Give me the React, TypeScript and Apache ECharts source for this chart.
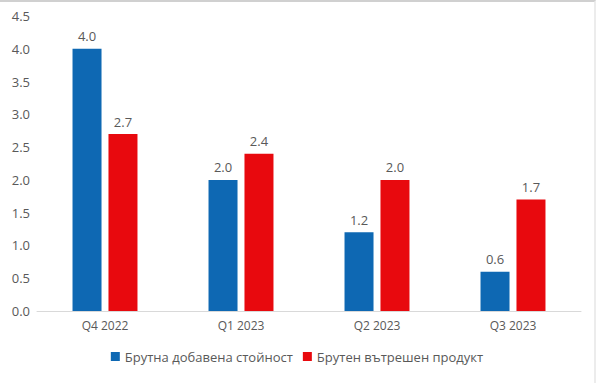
import React, { useEffect, useRef } from "react";
import * as echarts from "echarts";

const categories = ["Q4 2022", "Q1 2023", "Q2 2023", "Q3 2023"];
const gvaValues = [4.0, 2.0, 1.2, 0.6];
const gdpValues = [2.7, 2.4, 2.0, 1.7];
const seriesNames = ["Брутна добавена стойност", "Брутен вътрешен продукт"];

export default function App() {
  const ref = useRef<HTMLDivElement>(null);
  useEffect(() => {
    document.body.style.margin = "0";
    const chart = echarts.init(ref.current!, null, { renderer: "svg" });
    const font = "'Open Sans', 'Noto Sans', sans-serif";
    const labelCommon = {
      show: true,
      position: "top" as const,
      color: "#595959",
      fontSize: 13,
      fontFamily: font,
      distance: 6,
      formatter: (p: any) => Number(p.value).toFixed(1),
    };
    chart.setOption({
      animation: false,
      grid: { left: 37, right: 13, top: 14, bottom: 72 },
      legend: {
        bottom: 15,
        left: "center",
        itemWidth: 9,
        itemHeight: 9,
        itemGap: 10,
        icon: "rect",
        textStyle: { color: "#595959", fontSize: 13, fontFamily: font },
        data: seriesNames,
      },
      xAxis: {
        type: "category",
        data: categories,
        axisLine: { lineStyle: { color: "#d9d9d9", width: 1 } },
        axisTick: { show: false },
        axisLabel: { color: "#595959", fontSize: 12, fontFamily: font, margin: 8 },
      },
      yAxis: {
        type: "value",
        min: 0,
        max: 4.5,
        interval: 0.5,
        splitLine: { show: false },
        axisLine: { show: false },
        axisTick: { show: false },
        axisLabel: {
          color: "#595959",
          fontSize: 13,
          fontFamily: font,
          margin: 7,
          formatter: (v: number) => v.toFixed(1),
        },
      },
      series: [
        {
          name: seriesNames[0],
          type: "bar",
          data: gvaValues,
          barWidth: 29,
          barGap: "24%",
          itemStyle: { color: "#0E68B3" },
          label: labelCommon,
        },
        {
          name: seriesNames[1],
          type: "bar",
          data: gdpValues,
          barWidth: 29,
          itemStyle: { color: "#E8090E" },
          label: labelCommon,
        },
      ],
    });
    return () => chart.dispose();
  }, []);
  return (
    <div
      style={{
        position: "fixed",
        left: 0,
        top: 0,
        width: 596,
        height: 383,
        boxSizing: "border-box",
        borderTop: "2px solid #d0d0d0",
        borderRight: "2px solid #ececec",
        background: "#fff",
      }}
    >
      <div ref={ref} style={{ width: 594, height: 381 }} />
    </div>
  );
}
